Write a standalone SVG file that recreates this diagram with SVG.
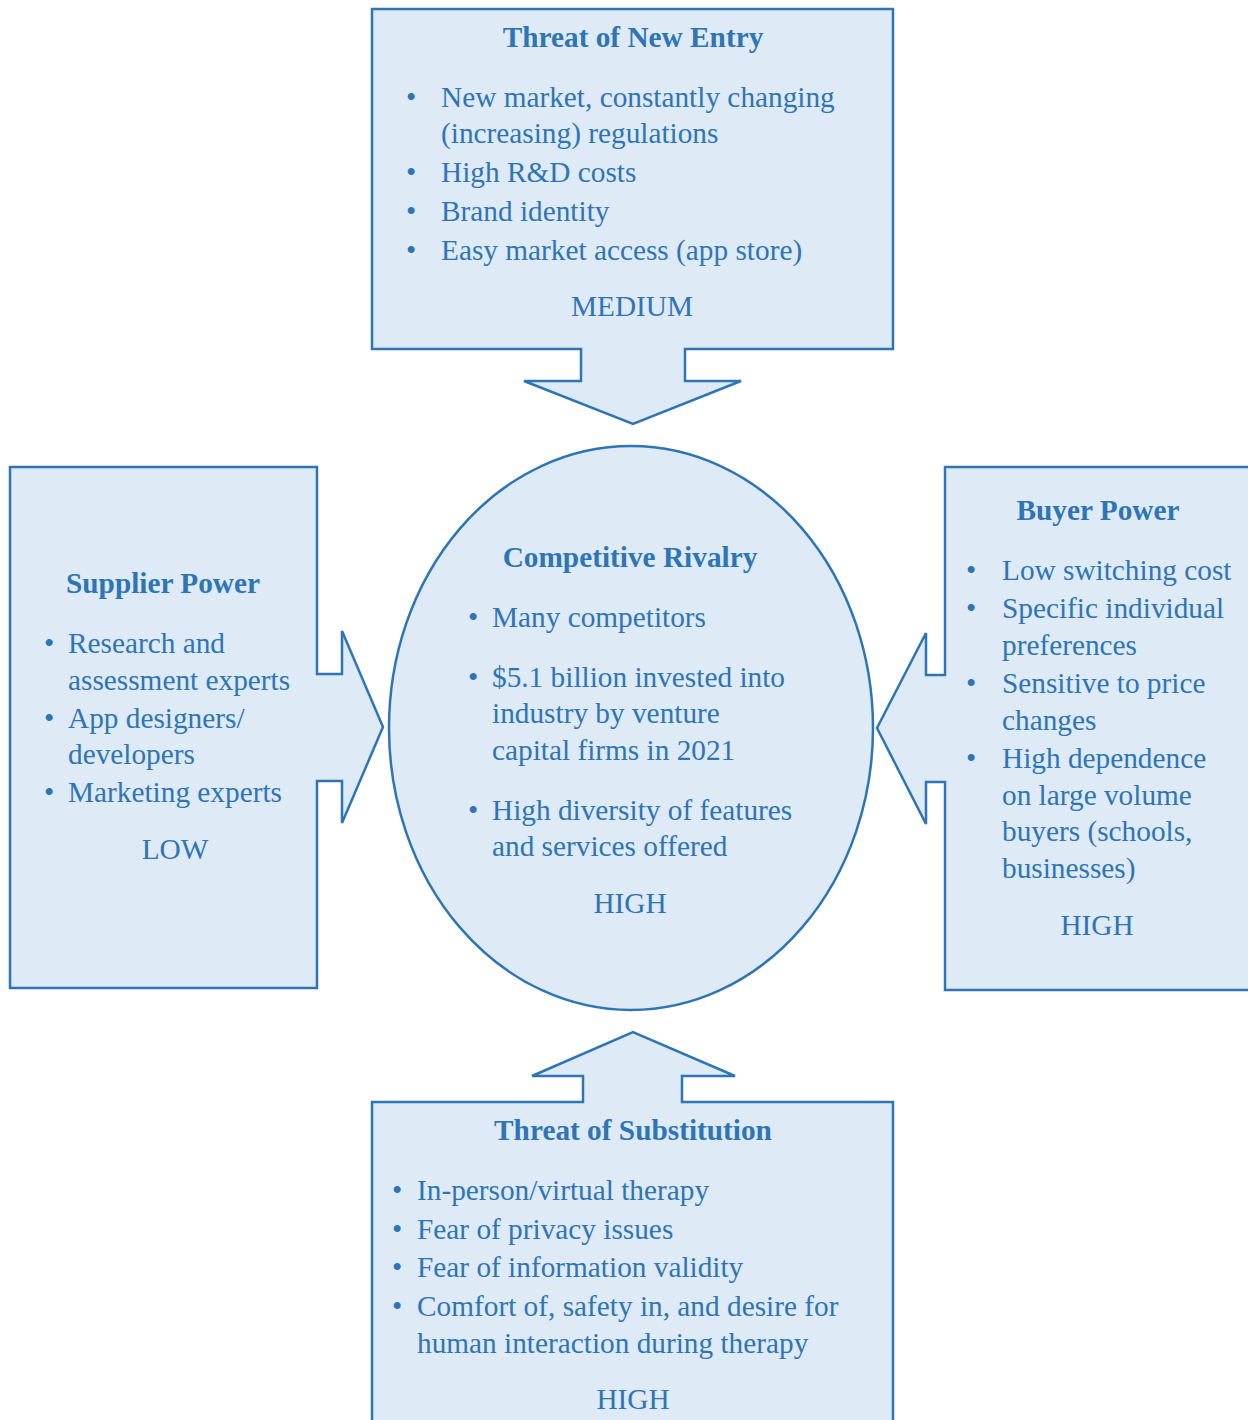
<svg xmlns="http://www.w3.org/2000/svg" width="1248" height="1420" viewBox="0 0 1248 1420">
<style>
.shape{fill:#DEEAF6;stroke:#2E75B6;stroke-width:2.5;stroke-linejoin:miter}
text{font-family:"Liberation Serif","Times New Roman",serif;font-size:29.3px;fill:#2E75B6}
.t{font-weight:bold;text-anchor:middle}
.c{text-anchor:middle}
</style>
<rect width="1248" height="1420" fill="#ffffff"/>
<g id="connectors"></g>
<g id="threat-new-entry">
<path class="shape" d="M372,9 H893 V349 H685 V381 H741 L633,424 L524,381 H581 V349 H372 Z"/>
<text class="t" x="633" y="47">Threat of New Entry</text>
<text x="406" y="107">•</text><text x="441" y="107">New market, constantly changing</text>
<text x="441" y="143">(increasing) regulations</text>
<text x="406" y="182">•</text><text x="441" y="182">High R&amp;D costs</text>
<text x="406" y="221">•</text><text x="441" y="221">Brand identity</text>
<text x="406" y="260">•</text><text x="441" y="260">Easy market access (app store)</text>
<text class="c" x="632" y="316">MEDIUM</text>
</g>
<g id="supplier-power">
<path class="shape" d="M10,467 H317 V674 H342 V631 L383,727 L342,823 V781 H317 V988 H10 Z"/>
<text class="t" x="163" y="593">Supplier Power</text>
<text x="44" y="653">•</text><text x="68" y="653">Research and</text>
<text x="68" y="690">assessment experts</text>
<text x="44" y="728">•</text><text x="68" y="728">App designers/</text>
<text x="68" y="764">developers</text>
<text x="44" y="802">•</text><text x="68" y="802">Marketing experts</text>
<text class="c" x="175" y="859">LOW</text>
</g>
<g id="buyer-power">
<path class="shape" d="M1252,467 H945 V675 H926 V633 L877,728 L926,824 V782 H945 V990 H1252 Z"/>
<text class="t" x="1098" y="520">Buyer Power</text>
<text x="966" y="580">•</text><text x="1002" y="580">Low switching cost</text>
<text x="966" y="618">•</text><text x="1002" y="618">Specific individual</text>
<text x="1002" y="655">preferences</text>
<text x="966" y="693">•</text><text x="1002" y="693">Sensitive to price</text>
<text x="1002" y="730">changes</text>
<text x="966" y="768">•</text><text x="1002" y="768">High dependence</text>
<text x="1002" y="805">on large volume</text>
<text x="1002" y="841">buyers (schools,</text>
<text x="1002" y="878">businesses)</text>
<text class="c" x="1097" y="935">HIGH</text>
</g>
<g id="threat-substitution">
<path class="shape" d="M372,1424 V1102 H583 V1076 H532 L633,1032 L735,1076 H682 V1102 H893 V1424"/>
<text class="t" x="633" y="1140">Threat of Substitution</text>
<text x="392" y="1200">•</text><text x="417" y="1200">In-person/virtual therapy</text>
<text x="392" y="1239">•</text><text x="417" y="1239">Fear of privacy issues</text>
<text x="392" y="1277">•</text><text x="417" y="1277">Fear of information validity</text>
<text x="392" y="1316">•</text><text x="417" y="1316">Comfort of, safety in, and desire for</text>
<text x="417" y="1353">human interaction during therapy</text>
<text class="c" x="633" y="1409">HIGH</text>
</g>
<g id="competitive-rivalry">
<ellipse class="shape" cx="631" cy="728" rx="242" ry="282"/>
<text class="t" x="630" y="567">Competitive Rivalry</text>
<text x="468" y="627">•</text><text x="492" y="627">Many competitors</text>
<text x="468" y="687">•</text><text x="492" y="687">$5.1 billion invested into</text>
<text x="492" y="723">industry by venture</text>
<text x="492" y="760">capital firms in 2021</text>
<text x="468" y="820">•</text><text x="492" y="820">High diversity of features</text>
<text x="492" y="856">and services offered</text>
<text class="c" x="630" y="913">HIGH</text>
</g>
</svg>
